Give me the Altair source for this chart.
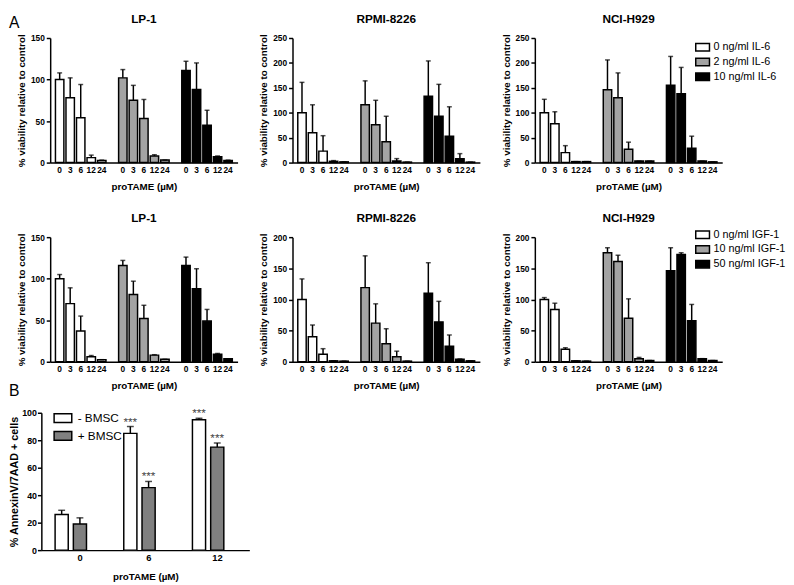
import altair as alt
import pandas as pd

FONT = "Liberation Sans"
DOSES = ["0", "3", "6", "12", "24"]
IL6_LABELS = ["0 ng/ml IL-6", "2 ng/ml IL-6", "10 ng/ml IL-6"]
IGF_LABELS = ["0 ng/ml IGF-1", "10 ng/ml IGF-1", "50 ng/ml IGF-1"]
FILLS = ["#ffffff", "#a3a3a3", "#000000"]

# ---- row 1 (IL-6) : mean per condition (rows) and dose (cols), and top of error bar
LP1_IL6_MEAN = [[100, 78, 54, 6, 2.5], [102, 75, 53, 8, 3], [111, 88, 45, 7, 2.5]]
LP1_IL6_UP = [[108, 102, 94, 9, 3], [112, 93, 76, 9.5, 3], [122, 120, 63, 8, 3]]
RPMI_IL6_MEAN = [[100, 60, 23, 2.6, 1.5], [116, 76, 42, 3, 1], [133, 93, 53, 8, 1]]
RPMI_IL6_UP = [[161, 116, 54, 4, 1.5], [164, 125, 93, 8, 1], [204, 157, 112, 18, 1]]
H929_IL6_MEAN = [[100, 78, 20, 2, 2], [146, 130, 27, 3, 3], [155, 138, 29, 3, 1.5]]
H929_IL6_UP = [[127, 102, 34, 2, 2], [206, 180, 41, 3, 3], [213, 191, 53, 3, 1.5]]

# ---- row 2 (IGF-1)
LP1_IGF_MEAN = [[100, 70, 37, 6, 2.5], [116, 81, 52, 8, 3], [116, 88, 49, 9, 3.5]]
LP1_IGF_UP = [[105, 89, 55, 7.5, 2.5], [122, 97, 68, 8.5, 3], [126, 112, 63, 10, 3.5]]
RPMI_IGF_MEAN = [[100, 40, 12, 1.5, 1], [119, 62, 29, 8, 1], [110, 64, 25, 4, 1.5]]
RPMI_IGF_UP = [[133, 59, 21, 1.5, 1], [170, 93, 53, 17, 1], [159, 97, 43, 4.5, 1.5]]
H929_IGF_MEAN = [[100, 84, 20, 1.5, 1], [175, 161, 70, 5, 2], [146, 172, 66, 5, 2]]
H929_IGF_UP = [[103, 94, 22.5, 1.5, 1], [183, 171, 101, 7, 2], [183, 175, 92, 5, 2]]

# ---- panel B
B_DOSES = ["0", "6", "12"]
B_SERIES = ["- BMSC", "+ BMSC"]
B_MINUS = [26, 85, 95]
B_MINUS_UP = [29, 90, 96]
B_PLUS = [19, 45.5, 75]
B_PLUS_UP = [23.5, 50, 78]
B_MINUS_STARS = ["", "***", "***"]
B_PLUS_STARS = ["", "***", "***"]

W, H = 191, 127
SW = 1.5


def panel(title, labels, means, uppers, ymax, ystep, legend_y=None, letter=None, letter_y=None):
    rows = []
    for g, (lab, ms, us) in enumerate(zip(labels, means, uppers)):
        for d, m, u in zip(DOSES, ms, us):
            rows.append({"slot": f"{g}|{d}", "cond": lab, "mean": m, "upper": u})
    df = pd.DataFrame(rows)
    domain = []
    for g in range(3):
        domain += [f"{g}|{d}" for d in DOSES]
        if g < 2:
            domain.append(f"gap{g}|")
    xs = alt.Scale(domain=domain, paddingInner=0.2, paddingOuter=0.5)
    xa = alt.Axis(title="proTAME (µM)", labelExpr="split(datum.value,'|')[1]",
                  labelAngle=0, ticks=False, labelOverlap=False, titlePadding=7.5)
    x = alt.X("slot:N", scale=xs, axis=xa)
    ys = alt.Scale(domain=[0, ymax], nice=False)
    ya = alt.Axis(values=list(range(0, ymax + 1, ystep)), title="% viability relative to control")
    if legend_y is not None:
        leg = alt.Legend(orient="none", legendX=163, legendY=legend_y, title=None,
                         symbolType="M-1,-0.55H1V0.55H-1Z", symbolSize=196,
                         symbolStrokeColor="black", symbolStrokeWidth=SW,
                         labelFontSize=11, labelFont=FONT, labelColor="black",
                         rowPadding=0, labelOffset=3, padding=0)
    else:
        leg = None
    base = alt.Chart(df)
    bars = base.mark_bar(stroke="black", strokeWidth=SW).encode(
        x=x, y=alt.Y("mean:Q", scale=ys, axis=ya),
        fill=alt.Fill("cond:N", scale=alt.Scale(domain=labels, range=FILLS), legend=leg))
    err = base.mark_rule(color="black", strokeWidth=SW).encode(
        x=x, y=alt.Y("mean:Q", scale=ys, axis=ya), y2="upper:Q")
    cap = base.mark_tick(color="black", thickness=SW, size=5).encode(
        x=x, y=alt.Y("upper:Q", scale=ys, axis=ya))
    ttl = alt.Chart(pd.DataFrame({"t": [title]})).mark_text(
        font=FONT, fontSize=12, fontWeight="bold", baseline="top", color="black"
    ).encode(text="t:N", x=alt.value(W / 2), y=alt.value(-24))
    layers = [bars, err, cap, ttl]
    if letter is not None:
        layers.append(alt.Chart(pd.DataFrame({"t": [letter]})).mark_text(
            font=FONT, fontSize=16, baseline="alphabetic", align="left", color="black"
        ).encode(text="t:N", x=alt.value(-42), y=alt.value(letter_y)))
    return alt.layer(*layers).properties(width=W, height=H)


def row(charts, spacing):
    return alt.hconcat(*charts, spacing=spacing).resolve_scale(
        x="independent", y="independent", fill="independent")


r1 = row([
    panel("LP-1", IL6_LABELS, LP1_IL6_MEAN, LP1_IL6_UP, 150, 50, letter="A", letter_y=-10),
    panel("RPMI-8226", IL6_LABELS, RPMI_IL6_MEAN, RPMI_IL6_UP, 250, 50),
    panel("NCI-H929", IL6_LABELS, H929_IL6_MEAN, H929_IL6_UP, 250, 50, legend_y=1.5),
], 21)

r2 = row([
    panel("LP-1", IGF_LABELS, LP1_IGF_MEAN, LP1_IGF_UP, 150, 50, letter="B", letter_y=162),
    panel("RPMI-8226", IGF_LABELS, RPMI_IGF_MEAN, RPMI_IGF_UP, 200, 50),
    panel("NCI-H929", IGF_LABELS, H929_IGF_MEAN, H929_IGF_UP, 200, 50, legend_y=-10.5),
], 21)

# ---- panel B (its axes sit 9px left of the panels above)
BSHIFT = 9
BW, BH = 212, 140
brows = []
for d, m, u, s in zip(B_DOSES, B_MINUS, B_MINUS_UP, B_MINUS_STARS):
    brows.append({"dose": d, "series": B_SERIES[0], "mean": m, "upper": u, "star": s})
for d, m, u, s in zip(B_DOSES, B_PLUS, B_PLUS_UP, B_PLUS_STARS):
    brows.append({"dose": d, "series": B_SERIES[1], "mean": m, "upper": u, "star": s})
bdf = pd.DataFrame(brows)

bx = alt.X("dose:N", sort=B_DOSES,
           scale=alt.Scale(paddingInner=0.543, paddingOuter=0.286, align=0.35,
                           range=[-BSHIFT, BW - BSHIFT]),
           axis=alt.Axis(title="proTAME (µM)", labelOffset=9.5, labelAngle=0, ticks=False,
                         labelFontSize=9.5, titleFontSize=10, titlePadding=9.5))
bxo = alt.XOffset("series:N", sort=B_SERIES, scale=alt.Scale(paddingInner=0.28, paddingOuter=0))
bys = alt.Scale(domain=[0, 100], nice=False)
bya = alt.Axis(values=[0, 20, 40, 60, 80, 100], title="% AnnexinV/7AAD + cells",
               labelFontSize=9, titleFontSize=11, titlePadding=2, labelPadding=1,
               offset=BSHIFT)
bleg = alt.Legend(orient="none", legendX=3, legendY=-4.5, title=None,
                  symbolType="M-1,-0.5H1V0.5H-1Z", symbolSize=324,
                  symbolStrokeColor="black", symbolStrokeWidth=SW,
                  labelFontSize=12, labelFont=FONT, labelColor="black",
                  rowPadding=0, labelOffset=5, padding=0)
bbase = alt.Chart(bdf)
bbars = bbase.mark_bar(stroke="black", strokeWidth=SW).encode(
    x=bx, xOffset=bxo, y=alt.Y("mean:Q", scale=bys, axis=bya),
    fill=alt.Fill("series:N", scale=alt.Scale(domain=B_SERIES, range=["#ffffff", "#808080"]),
                  legend=bleg))
berr = bbase.mark_rule(color="black", strokeWidth=SW).encode(
    x=bx, xOffset=bxo, y=alt.Y("mean:Q", scale=bys, axis=bya), y2="upper:Q")
bcap = bbase.mark_tick(color="black", thickness=SW, size=7).encode(
    x=bx, xOffset=bxo, y=alt.Y("upper:Q", scale=bys, axis=bya))
bstar = bbase.transform_filter("datum.star != ''").mark_text(
    font=FONT, fontSize=12, baseline="alphabetic", dy=-1, color="#444444"
).encode(x=bx, xOffset=bxo, y=alt.Y("upper:Q", scale=bys, axis=bya), text="star:N")
panelB = alt.layer(bbars, berr, bcap, bstar).properties(width=BW - BSHIFT, height=BH)
r3 = alt.hconcat(panelB)

top = alt.vconcat(r1, r2, spacing=22).resolve_scale(
    x="independent", y="independent", fill="independent")

chart = alt.vconcat(top, r3, spacing=8).resolve_scale(
    x="independent", y="independent", fill="independent"
).properties(padding=0).configure(font=FONT).configure_view(strokeWidth=0).configure_axis(
    domainColor="black", domainWidth=SW, tickColor="black", tickWidth=SW, tickSize=4,
    labelColor="black", titleColor="black", labelFont=FONT, titleFont=FONT,
    labelFontWeight="bold", labelFontSize=8.5, titleFontWeight="bold", titleFontSize=10,
    grid=False
).configure_axisX(labelPadding=3, titlePadding=4).configure_axisY(labelPadding=2, titlePadding=4)

chart.save("out.html", embed_options={"renderer": "svg", "actions": False})
